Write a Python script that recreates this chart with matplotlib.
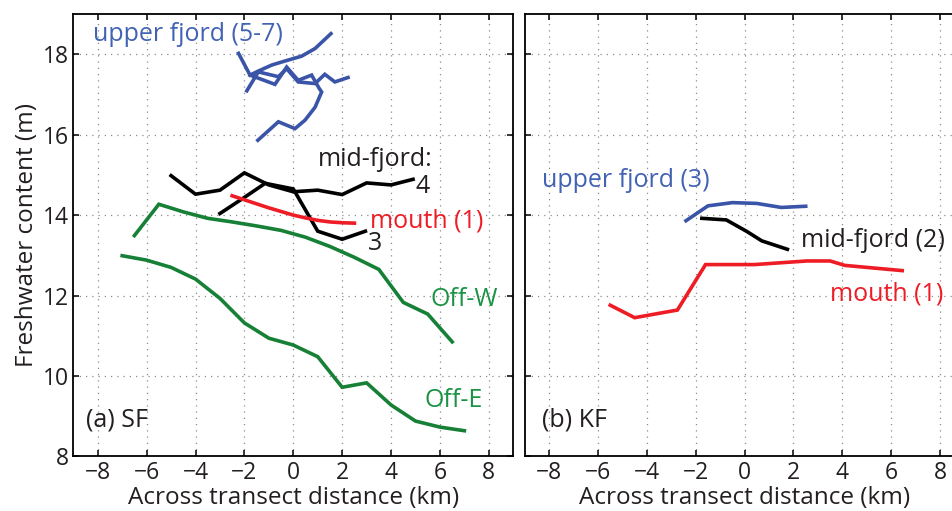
import matplotlib
matplotlib.use("Agg")
import matplotlib.pyplot as plt

plt.rcParams['font.family'] = ['Open Sans', 'DejaVu Sans']

# ---- (a) SF : freshwater content along cross-fjord transects ----
sf_upper5_x = [-2.24, -1.77, -1.43, -0.88, -0.34, 0.34, 0.89, 1.54]
sf_upper5_y = [18.02, 17.48, 17.58, 17.73, 17.83, 17.95, 18.14, 18.51]
sf_upper6_x = [-1.90, -1.43, -0.61, -0.27, 0.20, 0.89, 1.29, 1.70, 2.24]
sf_upper6_y = [17.09, 17.56, 17.44, 17.64, 17.31, 17.27, 17.50, 17.31, 17.42]
sf_upper7_x = [-1.45, -0.61, 0.07, 0.48, 0.89, 1.16, 1.06, 0.75, 0.20, -0.27, -0.75, -1.77]
sf_upper7_y = [15.86, 16.32, 16.15, 16.36, 16.68, 17.06, 17.15, 17.48, 17.35, 17.68, 17.25, 17.48]

sf_mid4_x = [-5, -4, -3, -2, -1, 0, 1, 2, 3, 4, 4.9]
sf_mid4_y = [14.98, 14.52, 14.62, 15.05, 14.75, 14.58, 14.62, 14.51, 14.80, 14.75, 14.89]
sf_mid3_x = [-3, -2, -1.15, 0, 1, 2, 2.95]
sf_mid3_y = [14.04, 14.44, 14.79, 14.65, 13.60, 13.40, 13.60]

sf_mouth_x = [-2.5, -2, -1.5, -1, -0.5, 0, 0.5, 1, 1.5, 2, 2.5]
sf_mouth_y = [14.48, 14.38, 14.28, 14.18, 14.09, 14.00, 13.93, 13.87, 13.83, 13.81, 13.80]

sf_offw_x = [-6.5, -5.5, -4.5, -3.5, -2.5, -1.5, -0.5, 0.5, 1.5, 2.5, 3.5, 4.5, 5.5, 6.5]
sf_offw_y = [13.49, 14.27, 14.08, 13.92, 13.83, 13.73, 13.62, 13.45, 13.22, 12.95, 12.65, 11.83, 11.54, 10.85]
sf_offe_x = [-7, -6, -5, -4, -3, -2, -1, 0, 1, 2, 3, 4, 5, 6, 7]
sf_offe_y = [12.99, 12.88, 12.70, 12.41, 11.93, 11.32, 10.94, 10.77, 10.48, 9.72, 9.83, 9.28, 8.88, 8.73, 8.64]

# ---- (b) KF ----
kf_upper_x = [-2.4, -1.5, -0.5, 0.5, 1.5, 2.5]
kf_upper_y = [13.86, 14.23, 14.31, 14.29, 14.19, 14.22]
kf_mid_x = [-1.75, -0.75, 0.1, 0.7, 1.75]
kf_mid_y = [13.92, 13.88, 13.59, 13.36, 13.15]
kf_mouth_x = [-5.5, -4.5, -2.75, -1.6, 0.4, 2.55, 3.5, 4.1, 6.45]
kf_mouth_y = [11.76, 11.45, 11.64, 12.77, 12.77, 12.86, 12.86, 12.75, 12.62]

x_ticks = [-8, -6, -4, -2, 0, 2, 4, 6, 8]
y_ticks = [8, 10, 12, 14, 16, 18]

BLUE = '#3a55a8'
BLUE_TXT = '#4263b3'
BLACK = '#000000'
TXT = '#231f20'
RED = '#ee1c25'
GREEN = '#158036'
GREEN_TXT = '#1a9345'

LW = 2.6
FS = 18        # in-plot annotations
FS_TICK = 16.5
FS_AX = 17.5

fig = plt.figure(figsize=(9.53, 5.11), dpi=100)
axa = fig.add_axes([0.0769, 0.1067, 0.4617, 0.866])
axb = fig.add_axes([0.5506, 0.1067, 0.4615, 0.866])


def style(ax, ylabels):
    ax.set_xlim(-9, 9)
    ax.set_ylim(8, 19)
    ax.set_xticks(x_ticks)
    ax.set_yticks(y_ticks)
    ax.grid(True, color='#8c8c8c', linestyle=(0, (1, 4)), linewidth=0.9)
    ax.tick_params(direction='in', length=4, width=1.1, top=True, right=True,
                   labelsize=FS_TICK, pad=3, colors='black', labelcolor=TXT)
    if not ylabels:
        ax.tick_params(labelleft=False)
    for s in ax.spines.values():
        s.set_linewidth(1.3)
        s.set_color('black')
    ax.set_xlabel('Across transect distance (km)', fontsize=FS_AX, color=TXT, labelpad=1)


style(axa, True)
style(axb, False)
axa.set_ylabel('Freshwater content (m)', fontsize=FS_AX, color=TXT, labelpad=3)

# panel (a)
for xs, ys in [(sf_upper5_x, sf_upper5_y), (sf_upper6_x, sf_upper6_y), (sf_upper7_x, sf_upper7_y)]:
    axa.plot(xs, ys, color=BLUE, lw=LW, solid_joinstyle='miter')
axa.plot(sf_mid4_x, sf_mid4_y, color=BLACK, lw=LW, solid_joinstyle='miter')
axa.plot(sf_mid3_x, sf_mid3_y, color=BLACK, lw=LW, solid_joinstyle='miter')
axa.plot(sf_mouth_x, sf_mouth_y, color=RED, lw=LW)
axa.plot(sf_offw_x, sf_offw_y, color=GREEN, lw=LW, solid_joinstyle='miter')
axa.plot(sf_offe_x, sf_offe_y, color=GREEN, lw=LW, solid_joinstyle='miter')

axa.text(-8.2, 18.5, 'upper fjord (5-7)', color=BLUE_TXT, fontsize=FS, va='center', ha='left')
axa.text(1.0, 15.37, 'mid-fjord:', color=TXT, fontsize=FS, va='center', ha='left')
axa.text(5.0, 14.72, '4', color=TXT, fontsize=FS, va='center', ha='left')
axa.text(3.05, 13.3, '3', color=TXT, fontsize=FS, va='center', ha='left')
axa.text(3.15, 13.85, 'mouth (1)', color=RED, fontsize=FS, va='center', ha='left')
axa.text(5.6, 11.9, 'Off-W', color=GREEN_TXT, fontsize=FS, va='center', ha='left')
axa.text(5.35, 9.4, 'Off-E', color=GREEN_TXT, fontsize=FS, va='center', ha='left')
axa.text(-8.5, 8.9, '(a) SF', color=TXT, fontsize=FS, va='center', ha='left')

# panel (b)
axb.plot(kf_upper_x, kf_upper_y, color=BLUE, lw=LW)
axb.plot(kf_mid_x, kf_mid_y, color=BLACK, lw=LW)
axb.plot(kf_mouth_x, kf_mouth_y, color=RED, lw=LW, solid_joinstyle='miter')

axb.text(-8.3, 14.87, 'upper fjord (3)', color=BLUE_TXT, fontsize=FS, va='center', ha='left')
axb.text(2.3, 13.38, 'mid-fjord (2)', color=TXT, fontsize=FS, va='center', ha='left')
axb.text(3.5, 12.05, 'mouth (1)', color=RED, fontsize=FS, va='center', ha='left')
axb.text(-8.3, 8.9, '(b) KF', color=TXT, fontsize=FS, va='center', ha='left')

fig.savefig('out.png', dpi=100)
